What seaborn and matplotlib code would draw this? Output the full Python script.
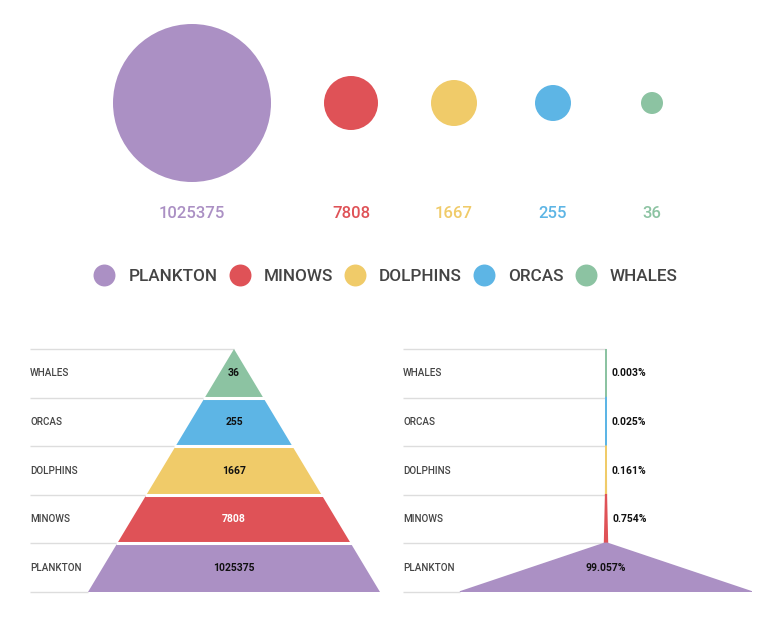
import numpy as np
import pandas as pd
import matplotlib
matplotlib.use("Agg")
import matplotlib.pyplot as plt
from matplotlib.lines import Line2D
import seaborn as sns

# ---------------- data ----------------
categories = ["PLANKTON", "MINOWS", "DOLPHINS", "ORCAS", "WHALES"]
values = [1025375, 7808, 1667, 255, 36]
colors = ["#AB90C4", "#DF5257", "#F0CB69", "#5DB5E5", "#8CC3A2"]
# bubble radius (pixels) used for the top row
bubble_radius_px = {"PLANKTON": 79, "MINOWS": 27, "DOLPHINS": 23, "ORCAS": 18, "WHALES": 11}

sns.set_theme(style="white")
plt.rcParams["font.family"] = ["Roboto", "DejaVu Sans"]

W, H = 768, 627
fig = plt.figure(figsize=(W / 100, H / 100), dpi=100)
fig.patch.set_facecolor("white")

palette = dict(zip(categories, colors))
df = pd.DataFrame({"animal": categories, "value": values})

# ---------------- top bubbles ----------------
top_h = 250
ax_top = fig.add_axes([0, 1 - top_h / H, 1, top_h / H])
ax_top.set_xlim(0, W)
ax_top.set_ylim(top_h, 0)
ax_top.axis("off")

# pack bubbles left to right: centre spacing = max(99, r_prev + r + 53)
xs = []
x = 192.0
for i, cat in enumerate(categories):
    if i > 0:
        prev = categories[i - 1]
        x += max(99.0, bubble_radius_px[prev] + bubble_radius_px[cat] + 53)
    xs.append(x)
df["x"] = xs
df["y"] = 103.0
sizes = {c: (2 * r * 0.72) ** 2 for c, r in bubble_radius_px.items()}

sns.scatterplot(data=df, x="x", y="y", hue="animal", palette=palette,
                size="animal", sizes=sizes, legend=False, linewidth=0,
                alpha=1, ax=ax_top)
for xi, v, c in zip(df["x"], values, colors):
    ax_top.text(xi, 213.5, f"{v}", ha="center", va="center", fontsize=12,
                color=c, fontweight="medium")

# ---------------- legend ----------------
handles = [Line2D([], [], marker="o", ls="", markersize=15.8,
                  markerfacecolor=c, markeredgewidth=0) for c in colors]
fig.legend(handles, categories, loc="center",
           bbox_to_anchor=(385 / W, 1 - 276 / H), ncol=5, frameon=False,
           prop={"size": 12.3, "weight": "medium"}, labelcolor="#444444",
           handlelength=1.4, handletextpad=0.7, columnspacing=0.6)

# ---------------- pyramids ----------------
order = categories[::-1]  # top to bottom: WHALES ... PLANKTON
order_vals = values[::-1]
order_cols = colors[::-1]
n = len(order)
total = sum(values)

def text_color(hexc):
    r, g, b = matplotlib.colors.to_rgb(hexc)
    return "white" if (0.299 * r + 0.587 * g + 0.114 * b) * 255 < 140 else "#111111"

def setup(ax, left_px, center_px, half_px, level_widths):
    # level_widths[j]: half width of the pyramid at boundary j (0 = top)
    lo = -(center_px - left_px) / half_px
    ax.set_xlim(lo, 1)
    ax.set_ylim(0, n)
    ax.axis("off")
    levels = n - np.arange(n + 1)
    ax.hlines(levels, lo, -np.asarray(level_widths), color="#dddddd", lw=1,
              zorder=0, clip_on=False)
    for i, cat in enumerate(order):
        ax.text(lo, n - i - 0.5, cat, ha="left", va="center", fontsize=7.1,
                color="#444444", fontweight="medium")
    return lo

bottom_px, top_px = 592, 349
ph = (bottom_px - top_px) / H
half = 146

# left: plain pyramid, equal steps
lw_left = np.arange(n + 1) / n
axL = fig.add_axes([30 / W, (H - bottom_px) / H, (380 - 30) / W, ph])
setup(axL, 30, 234, half, lw_left)
for i, (cat, v, c) in enumerate(zip(order, order_vals, order_cols)):
    yt, yb = n - i, n - i - 1
    wt, wb = lw_left[i], lw_left[i + 1]
    axL.fill([-wt, wt, wb, -wb], [yt, yt, yb, yb], color=c, lw=0, zorder=2)
    axL.text(0, n - i - 0.5, f"{v}", ha="center", va="center", fontsize=7.5,
             fontweight="bold", color=text_color(c), zorder=3)
inner = np.arange(1, n)
axL.hlines(n - inner, -lw_left[inner] - 0.01, lw_left[inner] + 0.01,
           color="white", lw=2.2, zorder=2.5)

# right: width proportional to cumulative share
cum = np.concatenate([[0], np.cumsum(order_vals)]) / total
axR = fig.add_axes([403 / W, (H - bottom_px) / H, (752 - 403) / W, ph])
setup(axR, 403, 606, half, cum)
for i, (cat, v, c) in enumerate(zip(order, order_vals, order_cols)):
    yt, yb = n - i, n - i - 1
    wt, wb = cum[i], cum[i + 1]
    axR.fill([-wt, wt, wb, -wb], [yt, yt, yb, yb], color=c,
             edgecolor=c, lw=1.2, zorder=2)
    pct = f"{100 * v / total:.3f}%"
    mid_half_px = (wt + wb) / 2 * half
    if mid_half_px > 30:
        axR.text(0, n - i - 0.5, pct, ha="center", va="center", fontsize=7.5,
                 fontweight="bold", color=text_color(c), zorder=3)
    else:
        axR.text(max(wt, wb) + 5 / half, n - i - 0.5, pct, ha="left",
                 va="center", fontsize=7.5, fontweight="bold",
                 color="#111111", zorder=3)

fig.savefig("out.png", dpi=100)
